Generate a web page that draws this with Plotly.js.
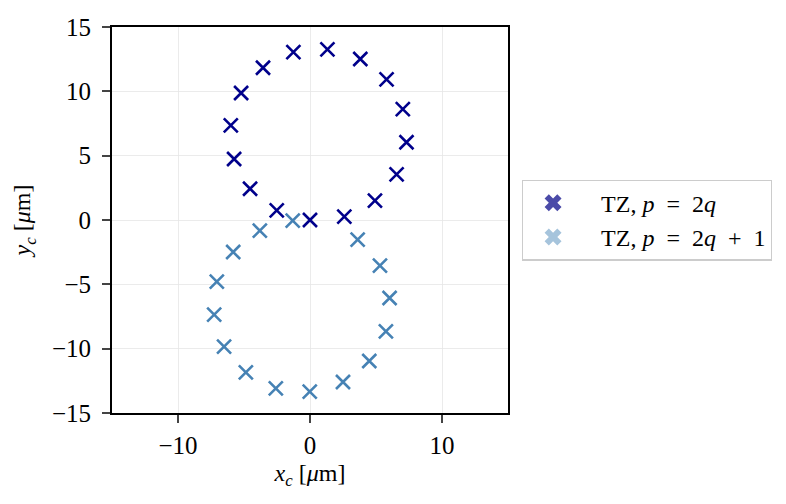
<!DOCTYPE html>
<html>
<head>
<meta charset="utf-8">
<script src="https://cdn.plot.ly/plotly-3.0.1.min.js"></script>
<style>html,body{margin:0;padding:0;background:#fff;}#chart{width:786px;height:504px;}</style>
</head>
<body>
<div id="chart"></div>
<script>
// TZ, p = 2q (even) positions
const evenX = [1.32, 3.81, 5.80, 7.03, 7.31, 6.56, 4.92, 2.60, 0.00, -2.52, -4.54, -5.75, -6.00, -5.22, -3.56, -1.26];
const evenY = [13.26, 12.51, 10.93, 8.62, 6.04, 3.55, 1.50, 0.26, 0.00, 0.75, 2.43, 4.74, 7.36, 9.87, 11.83, 13.05];
// TZ, p = 2q+1 (odd) positions
const oddX = [-1.31, -3.80, -5.82, -7.06, -7.26, -6.51, -4.86, -2.59, -0.02, 2.50, 4.49, 5.75, 6.03, 5.30, 3.61];
const oddY = [-0.05, -0.83, -2.49, -4.79, -7.36, -9.84, -11.84, -13.08, -13.34, -12.59, -10.96, -8.65, -6.06, -3.55, -1.53];
const seriesNames = ["TZ, <i>p</i>\u2002=\u20022<i>q</i>", "TZ, <i>p</i>\u2002=\u20022<i>q</i>\u2002+\u20021"];
const tickVals = [-10, 0, 10];
const yTickVals = [-15, -10, -5, 0, 5, 10, 15];

const font = "'Liberation Serif', serif";
const traces = [
  {x: oddX, y: oddY, mode: "markers", type: "scatter", showlegend: false,
   marker: {symbol: "x-thin-open", size: 14, color: "#4682b4", line: {color: "#4682b4", width: 2.6}}},
  {x: evenX, y: evenY, mode: "markers", type: "scatter", showlegend: false,
   marker: {symbol: "x-thin-open", size: 14, color: "#00008b", line: {color: "#00008b", width: 2.6}}},
  {x: [null], y: [null], mode: "markers", type: "scatter", name: "\u00a0\u00a0\u00a0" + seriesNames[0],
   marker: {symbol: "x", size: 15, color: "#4b4ba8", line: {width: 0}}},
  {x: [null], y: [null], mode: "markers", type: "scatter", name: "\u00a0\u00a0\u00a0" + seriesNames[1],
   marker: {symbol: "x", size: 15, color: "#a6c4dc", line: {width: 0}}}
];
const layout = {
  width: 786, height: 504,
  margin: {l: 112, r: 278, t: 27, b: 91},
  paper_bgcolor: "#fff", plot_bgcolor: "#fff",
  font: {family: font, size: 25, color: "#000"},
  showlegend: true,
  legend: {x: 1.035, y: 0.5, xanchor: "left", yanchor: "middle",
    bordercolor: "#cccccc", borderwidth: 1.2, bgcolor: "#fff",
    font: {family: font, size: 24}, itemwidth: 50, tracegroupgap: 0},
  xaxis: {range: [-15, 15], tickvals: tickVals, ticks: "outside", ticklen: 8, tickwidth: 2,
    showline: true, linewidth: 2, linecolor: "#000", mirror: true, zeroline: false,
    showgrid: true, gridcolor: "#e6e6e6", gridwidth: 0.8, ticklabelstandoff: 1,
    tickfont: {family: font, size: 25}, title: {text: "<i>x<sub>c</sub></i> [<i>μ</i>m]", font: {family: font, size: 24}, standoff: 6}},
  yaxis: {range: [-15, 15], tickvals: yTickVals, ticks: "outside", ticklen: 8, tickwidth: 2,
    showline: true, linewidth: 2, linecolor: "#000", mirror: true, zeroline: false,
    showgrid: true, gridcolor: "#e6e6e6", gridwidth: 0.8, ticklabelstandoff: 6,
    tickfont: {family: font, size: 25}, title: {text: "<i>y<sub>c</sub></i> [<i>μ</i>m]", font: {family: font, size: 24}, standoff: 14}}
};
Plotly.newPlot("chart", traces, layout, {displayModeBar: false, staticPlot: true});
</script>
</body>
</html>
